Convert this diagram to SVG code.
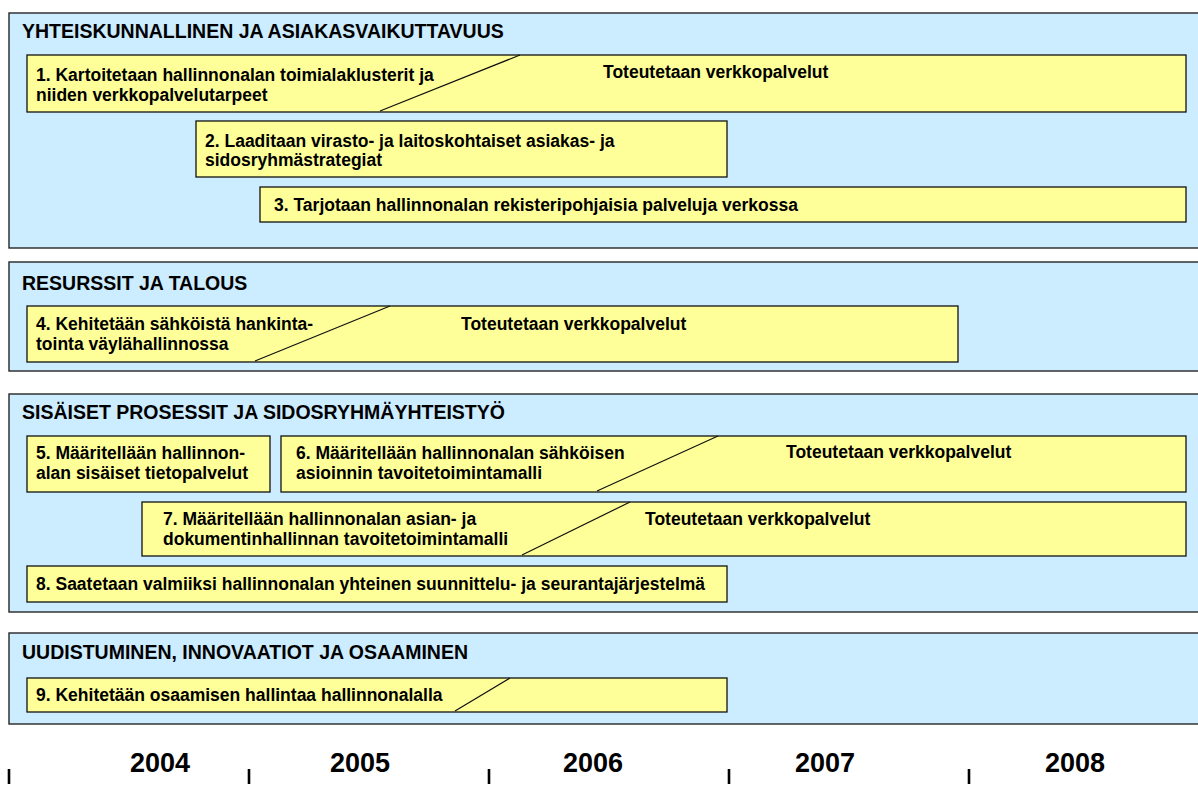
<svg xmlns="http://www.w3.org/2000/svg" width="1198" height="792" viewBox="0 0 1198 792">
  <style>
    .panel { fill: #CCECFF; stroke: #262626; stroke-width: 1.4; }
    .box { fill: #FFFF99; stroke: #111; stroke-width: 1.3; }
    .split { stroke: #111; stroke-width: 1.2; fill: none; }
    .head { font-family: "Liberation Sans", Arial, sans-serif; font-weight: bold; font-size: 19.5px; fill: #000; }
    .txt { font-family: "Liberation Sans", Arial, sans-serif; font-weight: bold; font-size: 17.5px; fill: #000; }
    .year { font-family: "Liberation Sans", Arial, sans-serif; font-weight: bold; font-size: 27px; fill: #000; text-anchor: middle; }
    .tick { stroke: #000; stroke-width: 2.6; }
  </style>
  <rect width="1198" height="792" fill="#fff"/>

  <!-- perspective panels -->
  <g id="panel-yhteiskunnallinen">
    <rect class="panel" x="9" y="13" width="1195" height="235"/>
    <text class="head" x="22" y="38">YHTEISKUNNALLINEN JA ASIAKASVAIKUTTAVUUS</text>
  </g>
  <g id="panel-resurssit">
    <rect class="panel" x="9" y="262" width="1195" height="109"/>
    <text class="head" x="22" y="290">RESURSSIT JA TALOUS</text>
  </g>
  <g id="panel-prosessit">
    <rect class="panel" x="9" y="394" width="1195" height="218"/>
    <text class="head" x="22" y="419">SISÄISET PROSESSIT JA SIDOSRYHMÄYHTEISTYÖ</text>
  </g>
  <g id="panel-uudistuminen">
    <rect class="panel" x="9" y="633" width="1195" height="91"/>
    <text class="head" x="22" y="659">UUDISTUMINEN, INNOVAATIOT JA OSAAMINEN</text>
  </g>

  <!-- project bars -->
  <g id="task1">
    <rect class="box" x="27" y="55" width="1159" height="57"/>
    <line class="split" x1="380" y1="111" x2="520" y2="55"/>
    <text class="txt" x="36" y="81">1. Kartoitetaan hallinnonalan toimialaklusterit ja</text>
    <text class="txt" x="36" y="101">niiden verkkopalvelutarpeet</text>
    <text class="txt" x="603" y="78">Toteutetaan verkkopalvelut</text>
  </g>
  <g id="task2">
    <rect class="box" x="196" y="121" width="531" height="56"/>
    <text class="txt" x="205" y="147">2. Laaditaan virasto- ja laitoskohtaiset asiakas- ja</text>
    <text class="txt" x="205" y="166">sidosryhmästrategiat</text>
  </g>
  <g id="task3">
    <rect class="box" x="260" y="187" width="926" height="35"/>
    <text class="txt" x="274" y="211">3. Tarjotaan hallinnonalan rekisteripohjaisia palveluja verkossa</text>
  </g>
  <g id="task4">
    <rect class="box" x="27" y="306" width="931" height="56"/>
    <line class="split" x1="255" y1="361" x2="390" y2="306"/>
    <text class="txt" x="36" y="330">4. Kehitetään sähköistä hankinta-</text>
    <text class="txt" x="36" y="350">tointa väylähallinnossa</text>
    <text class="txt" x="461" y="330">Toteutetaan verkkopalvelut</text>
  </g>
  <g id="task5">
    <rect class="box" x="27" y="436" width="243" height="56"/>
    <text class="txt" x="36" y="459">5. Määritellään hallinnon-</text>
    <text class="txt" x="36" y="479">alan sisäiset tietopalvelut</text>
  </g>
  <g id="task6">
    <rect class="box" x="281" y="436" width="905" height="56"/>
    <line class="split" x1="597" y1="491" x2="718" y2="436"/>
    <text class="txt" x="296" y="459">6. Määritellään hallinnonalan sähköisen</text>
    <text class="txt" x="296" y="479">asioinnin tavoitetoimintamalli</text>
    <text class="txt" x="786" y="458">Toteutetaan verkkopalvelut</text>
  </g>
  <g id="task7">
    <rect class="box" x="142" y="502" width="1044" height="54"/>
    <line class="split" x1="522" y1="555" x2="630" y2="502"/>
    <text class="txt" x="163" y="525">7. Määritellään hallinnonalan asian- ja</text>
    <text class="txt" x="163" y="545">dokumentinhallinnan tavoitetoimintamalli</text>
    <text class="txt" x="645" y="525">Toteutetaan verkkopalvelut</text>
  </g>
  <g id="task8">
    <rect class="box" x="27" y="566" width="700" height="36"/>
    <text class="txt" x="36" y="590">8. Saatetaan valmiiksi hallinnonalan yhteinen suunnittelu- ja seurantajärjestelmä</text>
  </g>
  <g id="task9">
    <rect class="box" x="27" y="678" width="700" height="34"/>
    <line class="split" x1="455" y1="711" x2="510" y2="678"/>
    <text class="txt" x="36" y="701">9. Kehitetään osaamisen hallintaa hallinnonalalla</text>
  </g>

  <!-- timeline -->
  <g id="timeline">
    <line class="tick" x1="9" y1="769" x2="9" y2="784"/>
    <line class="tick" x1="249" y1="769" x2="249" y2="784"/>
    <line class="tick" x1="489" y1="769" x2="489" y2="784"/>
    <line class="tick" x1="729" y1="769" x2="729" y2="784"/>
    <line class="tick" x1="969" y1="769" x2="969" y2="784"/>
    <text class="year" x="160" y="772">2004</text>
    <text class="year" x="360" y="772">2005</text>
    <text class="year" x="593" y="772">2006</text>
    <text class="year" x="825" y="772">2007</text>
    <text class="year" x="1075" y="772">2008</text>
  </g>
</svg>
